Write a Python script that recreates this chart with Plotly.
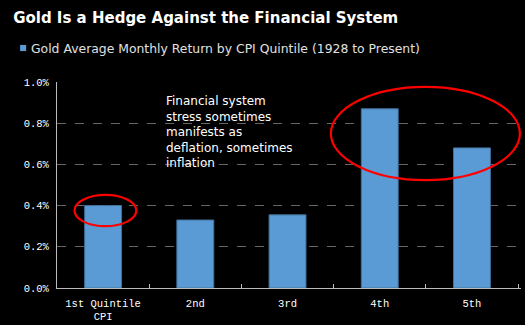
import plotly.graph_objects as go

categories = ["1st Quintile<br>CPI", "2nd", "3rd", "4th", "5th"]
avg_monthly_return = [0.0040, 0.0033, 0.00355, 0.0087, 0.0068]
y_ticks = [0, 0.002, 0.004, 0.006, 0.008, 0.010]
series_name = "Gold Average Monthly Return by CPI Quintile (1928 to Present)"
bar_color = "#5B9BD5"

fig = go.Figure()
fig.add_trace(go.Bar(
    x=categories,
    y=avg_monthly_return,
    name=series_name,
    marker=dict(color=bar_color, line=dict(color="#41719C", width=1)),
    width=0.4,
    showlegend=False,
))

# compact legend key: small square swatch and label above the plot
fig.add_shape(type="rect", xref="paper", yref="paper",
              x0=-0.0795, x1=-0.0665, y0=1.15, y1=1.18,
              fillcolor=bar_color, line=dict(width=0))
fig.add_annotation(
    text=series_name, xref="paper", yref="paper",
    x=-0.06, y=1.165, xanchor="left", yanchor="middle", showarrow=False,
    font=dict(family="DejaVu Sans", size=12.4, color="#E0E0E0"),
)

ell = dict(type="circle", xref="x", yref="y", line=dict(color="#FF0000", width=2.2))
fig.add_shape(**ell, x0=-0.31, x1=0.36, y0=0.0030, y1=0.00452)
fig.add_shape(**ell, x0=2.47, x1=4.52, y0=0.00524, y1=0.00976)

fig.add_annotation(
    text="Financial system<br>stress sometimes<br>manifests as<br>deflation, sometimes<br>inflation",
    xref="paper", yref="paper", x=0.231, y=0.95, xanchor="left", yanchor="top",
    align="left", showarrow=False,
    font=dict(family="DejaVu Sans", size=12, color="#FFFFFF"),
)

fig.update_layout(
    width=525, height=325,
    margin=dict(l=57, r=4, t=82, b=37),
    paper_bgcolor="#000000", plot_bgcolor="#000000",
    title=dict(text="<b>Gold Is a Hedge Against the Financial System</b>",
               x=0.025, xanchor="left", y=0.945, yanchor="middle",
               font=dict(family="DejaVu Sans", size=15, color="#FFFFFF")),
    showlegend=False,
    xaxis=dict(
        tickson="boundaries", ticks="inside", ticklen=4, tickcolor="#BBBBBB",
        showline=True, linecolor="#BBBBBB", linewidth=1,
        tickfont=dict(family="Liberation Mono", size=10.5, color="#FFFFFF"),
        showgrid=False, ticklabelstandoff=5, automargin=False,
    ),
    yaxis=dict(
        range=[0, 0.010], tickvals=y_ticks, tickformat=".1%",
        showline=True, linecolor="#BBBBBB", linewidth=1,
        gridcolor="#666666", griddash="dash", gridwidth=1,
        zeroline=False, ticks="", ticklabelstandoff=5, automargin=False,
        tickfont=dict(family="Liberation Mono", size=10.5, color="#FFFFFF"),
    ),
    bargap=0.6,
)

fig.write_html("out.html")
